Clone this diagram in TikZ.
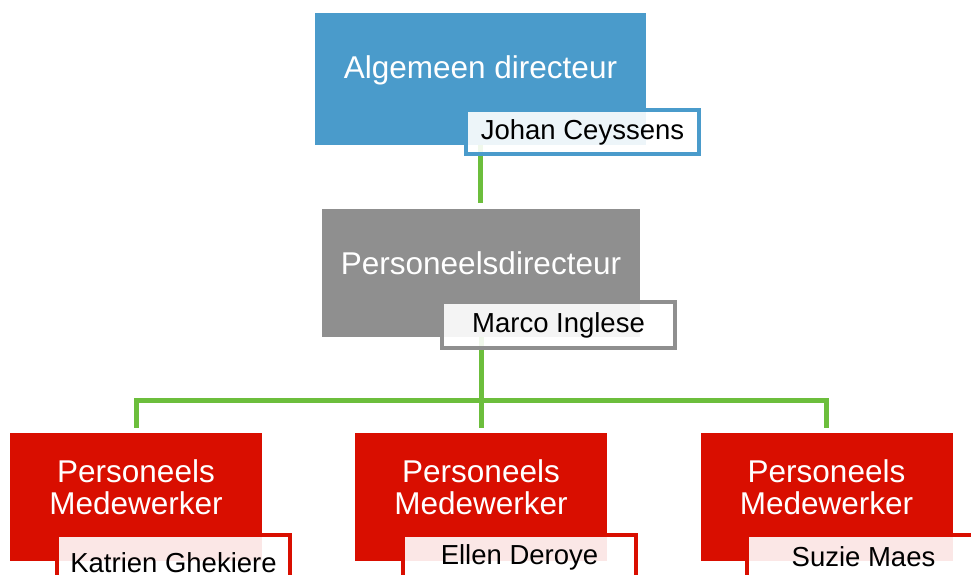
\documentclass[tikz,border=0pt]{standalone}
\usepackage{fontspec}
\setmainfont{Liberation Sans}
\usepackage{tikz}
\usetikzlibrary{backgrounds}
\definecolor{bossblue}{HTML}{4A9BCB}
\definecolor{headgray}{HTML}{8F8F8F}
\definecolor{staffred}{HTML}{D90E00}
\definecolor{linkgreen}{HTML}{6CBE3C}
\tikzstyle{chart}=[x=1pt, y=-1pt]
\tikzstyle{role}=[rectangle, inner sep=0pt, draw=none, minimum height=128pt]
\tikzstyle{title}=[inner sep=0pt, text=white, align=center, font=\fontsize{31.5}{32}\selectfont]
\tikzstyle{person}=[rectangle, inner sep=0pt, line width=4pt, fill=white, fill opacity=0.9, text opacity=1, minimum width=233pt, minimum height=44pt, font=\fontsize{27.5}{30}\selectfont]
\tikzstyle{staff}=[role, fill=staffred, minimum width=252pt]
\tikzstyle{staffname}=[person, draw=staffred]
\tikzstyle{link}=[draw=linkgreen, line width=5pt]
\newcommand{\staffY}{497}
\newcommand{\staffTY}{487}
\newcommand{\staffNY}{557}

\begin{document}
\begin{tikzpicture}[chart]
		\useasboundingbox (0,0) rectangle (971,575);
		%The top box
		\draw (480.5,79) node[role, fill=bossblue, minimum width=331pt, minimum height=132pt] (ad) {};
		\draw (480.5,70) node[title] (adt) {Algemeen directeur};
		
		%The second box
		\draw (481,273) node[role, fill=headgray, minimum width=318pt] (pd) {};
		\draw (481,263) node[title] (pdt) {Personeelsdirecteur};
		
		%The staff boxes
		\draw (136,\staffY) node[staff] (m1) {};
		\draw (136,\staffTY) node[title] (m1t) {Personeels\\Medewerker};
		\draw (481,\staffY) node[staff] (m2) {};
		\draw (481,\staffTY) node[title] (m2t) {Personeels\\Medewerker};
		\draw (826.5,\staffY) node[staff] (m3) {};
		\draw (826.5,\staffTY) node[title] (m3t) {Personeels\\Medewerker};
		
		%The name boxes
		\draw (582.5,132) node[person, draw=bossblue] (adn) {Johan Ceyssens};
		\draw (558.5,325) node[person, draw=headgray, minimum height=46pt] (pdn) {Marco Inglese};
		\draw (173.5,563) node[staffname, minimum height=56pt] (m1n) {Katrien Ghekiere};
		\draw (519.5,\staffNY) node[staffname] (m2n) {Ellen Deroye};
		\draw (863.5,\staffNY) node[staffname] (m3n) {Suzie Maes};
		
		%The connectors
		\coordinate (bar) at (481,400);
		\begin{pgfonlayer}{background}
		\draw[link] (ad.south) -- ([yshift=6pt]ad.south |- pd.north);
		\draw[link] (pd.south) -- ([yshift=5pt]m2.north);
		\draw[link] ([yshift=5pt]m1.north) |- (bar) -| ([yshift=5pt]m3.north);
		\end{pgfonlayer}
\end{tikzpicture}
\end{document}
